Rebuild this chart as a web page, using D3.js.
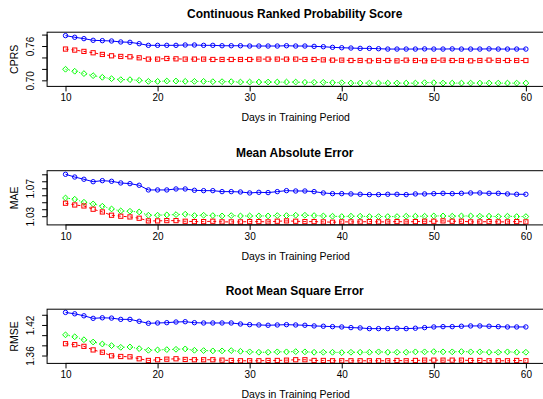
<!DOCTYPE html>
<html><head><meta charset="utf-8">
<script src="https://cdn.jsdelivr.net/npm/d3@7"></script>
<style>
body{margin:0;background:#fff}
svg{display:block}
text{font-family:"Liberation Sans",Arial,Helvetica,sans-serif;fill:#000}
</style>
</head><body>
<svg id="c" width="543" height="399"></svg>
<script>
// ---------- data ----------
const days = [10,11,12,13,14,15,16,17,18,19,20,21,22,23,24,25,26,27,28,29,30,31,32,33,34,35,36,37,38,39,40,41,42,43,44,45,46,47,48,49,50,51,52,53,54,55,56,57,58,59,60];
const xTicks = [10,20,30,40,50,60];
const titles = ["Continuous Ranked Probability Score","Mean Absolute Error","Root Mean Square Error"];
const yTitles = ["CPRS","MAE","RMSE"];
const xTitle = "Days in Training Period";

const crpsBlue = [0.7782,0.7753,0.7729,0.7700,0.7694,0.7688,0.7671,0.7665,0.7641,0.7612,
  0.7612,0.7612,0.7612,0.7618,0.7618,0.7612,0.7612,0.7605,0.7605,0.7605,
  0.7600,0.7600,0.7600,0.7600,0.7605,0.7600,0.7600,0.7594,0.7588,0.7577,
  0.7570,0.7565,0.7559,0.7559,0.7553,0.7547,0.7547,0.7547,0.7547,0.7550,
  0.7547,0.7547,0.7550,0.7547,0.7547,0.7547,0.7550,0.7547,0.7547,0.7547,0.7547];
const crpsRed = [0.7547,0.7529,0.7506,0.7482,0.7453,0.7429,0.7418,0.7412,0.7394,0.7371,
  0.7371,0.7382,0.7376,0.7371,0.7371,0.7371,0.7365,0.7365,0.7365,0.7365,
  0.7365,0.7371,0.7371,0.7371,0.7371,0.7371,0.7365,0.7365,0.7358,0.7353,
  0.7353,0.7347,0.7347,0.7341,0.7347,0.7347,0.7341,0.7353,0.7347,0.7341,
  0.7347,0.7353,0.7347,0.7347,0.7341,0.7347,0.7353,0.7347,0.7347,0.7347,0.7347];
const crpsGreen = [0.7194,0.7159,0.7118,0.7082,0.7053,0.7029,0.7012,0.7012,0.7000,0.6982,
  0.6982,0.6988,0.6988,0.6982,0.6982,0.6982,0.6977,0.6977,0.6977,0.6970,
  0.6970,0.6970,0.6970,0.6970,0.6970,0.6970,0.6965,0.6965,0.6965,0.6959,
  0.6959,0.6952,0.6952,0.6952,0.6952,0.6952,0.6952,0.6952,0.6952,0.6959,
  0.6959,0.6952,0.6952,0.6952,0.6952,0.6952,0.6952,0.6952,0.6952,0.6952,0.6952];

const maeBlue = [1.0900,1.0861,1.0829,1.0794,1.0809,1.0800,1.0776,1.0766,1.0743,1.0676,
  1.0676,1.0676,1.0690,1.0690,1.0671,1.0666,1.0666,1.0652,1.0652,1.0647,
  1.0633,1.0642,1.0638,1.0652,1.0666,1.0661,1.0661,1.0652,1.0633,1.0623,
  1.0623,1.0619,1.0614,1.0609,1.0609,1.0614,1.0614,1.0609,1.0619,1.0619,
  1.0623,1.0628,1.0623,1.0628,1.0633,1.0633,1.0628,1.0628,1.0619,1.0614,1.0614];
const maeRed = [1.0486,1.0461,1.0447,1.0400,1.0361,1.0314,1.0300,1.0290,1.0271,1.0233,
  1.0233,1.0237,1.0237,1.0228,1.0223,1.0223,1.0228,1.0219,1.0219,1.0219,
  1.0223,1.0223,1.0219,1.0228,1.0233,1.0228,1.0223,1.0223,1.0219,1.0214,
  1.0219,1.0219,1.0219,1.0223,1.0219,1.0219,1.0223,1.0219,1.0223,1.0228,
  1.0228,1.0233,1.0228,1.0228,1.0219,1.0219,1.0223,1.0219,1.0219,1.0223,1.0219];
const maeGreen = [1.0561,1.0543,1.0500,1.0476,1.0443,1.0404,1.0376,1.0371,1.0361,1.0314,
  1.0314,1.0319,1.0323,1.0329,1.0309,1.0314,1.0309,1.0304,1.0309,1.0304,
  1.0304,1.0304,1.0304,1.0309,1.0309,1.0314,1.0314,1.0309,1.0304,1.0300,
  1.0295,1.0300,1.0300,1.0295,1.0295,1.0295,1.0295,1.0300,1.0300,1.0300,
  1.0304,1.0304,1.0300,1.0304,1.0304,1.0300,1.0300,1.0295,1.0300,1.0295,1.0295];

const rmseBlue = [1.4446,1.4419,1.4380,1.4330,1.4341,1.4335,1.4310,1.4310,1.4272,1.4233,
  1.4239,1.4245,1.4258,1.4264,1.4245,1.4239,1.4239,1.4239,1.4239,1.4219,
  1.4206,1.4200,1.4194,1.4200,1.4206,1.4200,1.4194,1.4181,1.4175,1.4167,
  1.4161,1.4148,1.4142,1.4128,1.4128,1.4128,1.4136,1.4128,1.4136,1.4148,
  1.4161,1.4167,1.4167,1.4175,1.4181,1.4181,1.4175,1.4167,1.4161,1.4161,1.4161];
const rmseRed = [1.3832,1.3813,1.3780,1.3710,1.3664,1.3594,1.3581,1.3575,1.3536,1.3503,
  1.3517,1.3528,1.3536,1.3523,1.3517,1.3517,1.3517,1.3509,1.3503,1.3497,
  1.3497,1.3497,1.3503,1.3503,1.3509,1.3517,1.3517,1.3503,1.3503,1.3497,
  1.3497,1.3497,1.3497,1.3497,1.3497,1.3497,1.3503,1.3497,1.3503,1.3509,
  1.3509,1.3509,1.3509,1.3509,1.3503,1.3503,1.3497,1.3497,1.3497,1.3503,1.3497];
const rmseGreen = [1.4006,1.3968,1.3910,1.3865,1.3826,1.3794,1.3761,1.3768,1.3735,1.3703,
  1.3710,1.3716,1.3722,1.3730,1.3703,1.3697,1.3691,1.3691,1.3697,1.3683,
  1.3672,1.3664,1.3664,1.3672,1.3672,1.3677,1.3672,1.3664,1.3664,1.3664,
  1.3658,1.3664,1.3664,1.3664,1.3672,1.3664,1.3664,1.3664,1.3672,1.3672,
  1.3677,1.3672,1.3672,1.3677,1.3672,1.3672,1.3664,1.3664,1.3672,1.3664,1.3664];

const yTicksAll = [[0.70,0.72,0.74,0.76,0.78],[1.03,1.04,1.05,1.06,1.07,1.08,1.09],[1.36,1.38,1.40,1.42,1.44]];
const yTickLabels = [["0.70","0.76"],["1.03","1.07"],["1.36","1.42"]];
const yDomains = [[0.68941,0.78417],[1.01757,1.09514],[1.34452,1.45096]];

const panels = [
  {blue:crpsBlue, red:crpsRed, green:crpsGreen},
  {blue:maeBlue, red:maeRed, green:maeGreen},
  {blue:rmseBlue, red:rmseRed, green:rmseGreen}
];

// ---------- layout ----------
const svg = d3.select("#c");
const L = 47.1, R = 544.3, H = 54.2, step = 138.5, top0 = 32.2;
const x = d3.scaleLinear().domain([8,62]).range([L,R]);
const colors = {blue:"#0000ff", red:"#ff0000", green:"#00ff00"};
const dash = {blue:null, red:"3,3", green:"1,2.5"};

panels.forEach((p,i)=>{
  const T = top0 + i*step, B = T + H;
  const y = d3.scaleLinear().domain(yDomains[i]).range([B,T]);
  const g = svg.append("g");

  ["green","red","blue"].forEach(k=>{
    const pts = days.map((d,j)=>[d,p[k][j]]);
    g.append("path").datum(pts)
      .attr("d", d3.line().x(d=>x(d[0])).y(d=>y(d[1])))
      .attr("fill","none").attr("stroke",colors[k]).attr("stroke-width",1)
      .attr("stroke-dasharray",dash[k]);
    const sel = g.selectAll(null).data(pts);
    if(k==="blue"){
      sel.join("circle").attr("cx",d=>x(d[0])).attr("cy",d=>y(d[1])).attr("r",2.2)
        .attr("fill","none").attr("stroke",colors[k]).attr("stroke-width",1);
    } else if(k==="red"){
      sel.join("rect").attr("x",d=>x(d[0])-2.1).attr("y",d=>y(d[1])-2.1).attr("width",4.2).attr("height",4.2)
        .attr("fill","none").attr("stroke",colors[k]).attr("stroke-width",1);
    } else {
      sel.join("path").attr("d",d=>{const cx=x(d[0]),cy=y(d[1]),r=2.9;return `M${cx},${cy-r}L${cx+r},${cy}L${cx},${cy+r}L${cx-r},${cy}Z`;})
        .attr("fill","none").attr("stroke",colors[k]).attr("stroke-width",1);
    }
  });

  // box
  g.append("rect").attr("x",L).attr("y",T).attr("width",R-L).attr("height",H)
    .attr("fill","none").attr("stroke","#000").attr("stroke-width",1);

  // x axis
  const xa = g.append("g").attr("transform",`translate(0,${B})`)
    .call(d3.axisBottom(x).tickValues(xTicks).tickSize(5).tickPadding(3).tickFormat(d3.format("d")));
  xa.select(".domain").attr("d",`M${x(xTicks[0])},0H${x(xTicks[xTicks.length-1])}`);
  xa.selectAll("text").attr("font-size",10).attr("font-family",null);

  // y axis
  const ya = g.append("g").attr("transform",`translate(${L},0)`)
    .call(d3.axisLeft(y).tickValues(yTicksAll[i]).tickSize(5)
      .tickFormat(d=>{const s=d3.format(".2f")(d);return yTickLabels[i].includes(s)?s:"";}));
  const yt = yTicksAll[i];
  ya.select(".domain").attr("d",`M0,${y(yt[0])}V${y(yt[yt.length-1])}`);
  ya.selectAll("text").attr("font-size",10).attr("font-family",null)
    .attr("text-anchor","middle").attr("x",null).attr("dy",null)
    .attr("transform","translate(-13.5,0) rotate(-90)");
  svg.selectAll(".tick line, .domain").attr("stroke","#000");

  // titles
  svg.append("text").attr("x",(L+R)/2-1).attr("y",T-14).attr("text-anchor","middle")
    .attr("font-size",12).attr("font-weight","bold").text(titles[i]);
  svg.append("text").attr("x",(L+R)/2).attr("y",B+34.6).attr("text-anchor","middle")
    .attr("font-size",10.5).text(xTitle);
  svg.append("text").attr("transform",`translate(17.5,${(T+B)/2}) rotate(-90)`).attr("text-anchor","middle")
    .attr("font-size",10.5).text(yTitles[i]);
});
</script>
</body></html>
